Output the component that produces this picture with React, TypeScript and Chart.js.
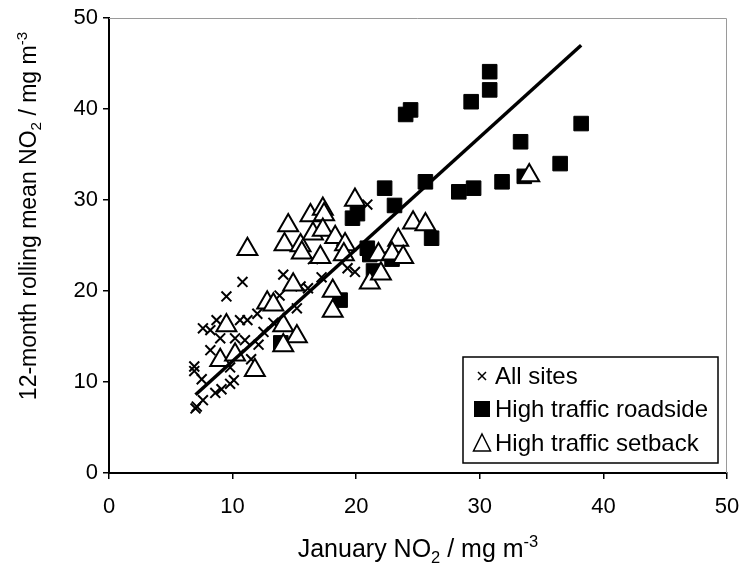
import React, { useEffect, useRef } from "react";
import { Chart, registerables } from "chart.js";

Chart.register(...registerables);

const FONT = "'Liberation Sans', Arial, Helvetica, sans-serif";

const xTickValues = [0, 10, 20, 30, 40, 50];
const yTickValues = [0, 10, 20, 30, 40, 50];

const seriesLabels = ["All sites", "High traffic roadside", "High traffic setback"];

const allSitesX = [7.0, 7.1, 7.6, 8.6, 9.1, 9.8, 10.1, 6.9, 6.9, 7.5, 9.8, 8.2, 10.2, 11.0, 12.1, 13.3, 15.2, 16.1, 7.6, 8.2, 8.7, 10.6, 11.2, 9.5, 10.8, 14.1, 17.2, 19.9, 20.9, 12.5, 16.5, 18.8, 19.3, 13.8, 11.5, 10.5, 9.0, 15.5, 12.0];
const allSitesY = [7.1, 7.3, 8.0, 8.8, 9.2, 9.8, 10.2, 11.7, 11.2, 10.3, 11.6, 13.5, 14.8, 14.6, 14.1, 16.5, 18.1, 20.3, 15.9, 15.7, 16.8, 16.8, 16.8, 19.4, 21.0, 21.8, 21.5, 22.1, 29.5, 15.5, 23.5, 25.5, 22.5, 19.5, 12.5, 13.0, 14.8, 20.5, 17.5];

const roadsideX = [30.8, 30.8, 29.3, 24.0, 24.4, 33.3, 38.2, 36.5, 31.8, 28.3, 29.5, 33.6, 25.6, 22.3, 23.1, 26.1, 19.7, 20.1, 20.9, 21.1, 21.4, 22.9, 18.7, 13.9];
const roadsideY = [44.1, 42.1, 40.8, 39.4, 39.9, 36.4, 38.4, 34.0, 32.0, 30.9, 31.3, 32.6, 32.0, 31.3, 29.4, 25.8, 28.0, 28.5, 24.7, 24.0, 22.2, 23.5, 19.0, 14.3];

const setbackX = [11.2, 14.5, 14.2, 16.3, 17.3, 17.4, 19.9, 15.5, 16.5, 17.3, 18.3, 19.1, 19.0, 15.6, 17.1, 14.9, 12.8, 13.3, 9.5, 9.0, 11.8, 10.2, 14.1, 15.2, 14.1, 18.1, 18.1, 21.1, 24.6, 25.6, 23.4, 21.8, 22.9, 23.8, 22.0, 34.0];
const setbackY = [24.6, 27.2, 25.1, 28.3, 29.0, 28.4, 30.0, 25.0, 26.3, 26.7, 25.9, 25.1, 24.0, 24.2, 23.7, 20.7, 18.7, 18.5, 16.2, 12.4, 11.3, 13.0, 16.2, 15.0, 14.0, 20.0, 17.8, 20.9, 27.5, 27.3, 25.6, 24.0, 24.1, 23.7, 21.9, 32.7];

const trendX = [7.0, 38.2];
const trendY = [8.6, 47.0];

type Run = { t: string; sub?: boolean; sup?: boolean };
const xTitleRuns: Run[] = [{ t: "January NO" }, { t: "2", sub: true }, { t: " / mg m" }, { t: "-3", sup: true }];
const yTitleRuns: Run[] = [{ t: "12-month rolling mean NO" }, { t: "2", sub: true }, { t: " / mg m" }, { t: "-3", sup: true }];

function drawRuns(ctx: CanvasRenderingContext2D, runs: Run[], size: number, cx: number, baseline: number) {
  const small = size * 0.66;
  let total = 0;
  runs.forEach((r) => {
    ctx.font = `${r.sub || r.sup ? small : size}px ${FONT}`;
    total += ctx.measureText(r.t).width;
  });
  let x = cx - total / 2;
  ctx.textAlign = "left";
  ctx.textBaseline = "alphabetic";
  runs.forEach((r) => {
    const s = r.sub || r.sup ? small : size;
    ctx.font = `${s}px ${FONT}`;
    const dy = r.sub ? size * 0.22 : r.sup ? -size * 0.4 : 0;
    ctx.fillText(r.t, x, baseline + dy);
    x += ctx.measureText(r.t).width;
  });
}

const decorPlugin = {
  id: "decor",
  beforeDatasetsDraw(chart: any) {
    const { ctx, chartArea } = chart;
    ctx.save();
    ctx.strokeStyle = "#9a9a9a";
    ctx.lineWidth = 1;
    ctx.beginPath();
    ctx.moveTo(chartArea.left, chartArea.top + 0.5);
    ctx.lineTo(chartArea.right - 0.5, chartArea.top + 0.5);
    ctx.lineTo(chartArea.right - 0.5, chartArea.bottom);
    ctx.stroke();
    ctx.restore();
  },
  afterDraw(chart: any) {
    const { ctx } = chart;
    ctx.save();
    ctx.fillStyle = "#000";
    drawRuns(ctx, xTitleRuns, 25, 418, 557);
    ctx.translate(36, 216);
    ctx.rotate(-Math.PI / 2);
    drawRuns(ctx, yTitleRuns, 23, 0, 0);
    ctx.restore();

    // legend box
    ctx.save();
    const bx = 463, by = 357, bw = 255, bh = 106;
    ctx.fillStyle = "#fff";
    ctx.fillRect(bx, by, bw, bh);
    ctx.strokeStyle = "#000";
    ctx.lineWidth = 1.5;
    ctx.strokeRect(bx, by, bw, bh);
    const rows = [376, 409, 443];
    const mx = 482;
    ctx.lineWidth = 1.5;
    ctx.beginPath();
    ctx.moveTo(mx - 4, rows[0] - 4);
    ctx.lineTo(mx + 4, rows[0] + 4);
    ctx.moveTo(mx + 4, rows[0] - 4);
    ctx.lineTo(mx - 4, rows[0] + 4);
    ctx.stroke();
    ctx.fillStyle = "#000";
    ctx.fillRect(mx - 8, rows[1] - 8, 16, 16);
    ctx.fillStyle = "#fff";
    ctx.beginPath();
    ctx.moveTo(mx, rows[2] - 9);
    ctx.lineTo(mx + 8.5, rows[2] + 8);
    ctx.lineTo(mx - 8.5, rows[2] + 8);
    ctx.closePath();
    ctx.fill();
    ctx.stroke();
    ctx.fillStyle = "#000";
    ctx.font = `24px ${FONT}`;
    ctx.textAlign = "left";
    ctx.textBaseline = "middle";
    seriesLabels.forEach((l, i) => ctx.fillText(l, 495, rows[i] + 1));
    ctx.restore();
  },
};

export default function App() {
  const ref = useRef<HTMLCanvasElement | null>(null);
  useEffect(() => {
    if (!ref.current) return;
    const toPts = (xs: number[], ys: number[]) => xs.map((x, i) => ({ x, y: ys[i] }));
    const chart = new Chart(ref.current, {
      type: "scatter",
      data: {
        datasets: [
          {
            type: "line",
            label: "trend",
            data: toPts(trendX, trendY),
            borderColor: "#000",
            borderWidth: 3.5,
            pointRadius: 0,
            showLine: true,
            fill: false,
            order: 0,
          } as any,
          {
            label: seriesLabels[2],
            data: toPts(setbackX, setbackY),
            pointStyle: "triangle",
            pointRadius: 11.5,
            pointBackgroundColor: "#fff",
            pointBorderColor: "#000",
            pointBorderWidth: 2,
            order: 1,
          },
          {
            label: seriesLabels[1],
            data: toPts(roadsideX, roadsideY),
            pointStyle: "rect",
            pointRadius: 10.3,
            pointBackgroundColor: "#000",
            pointBorderColor: "#000",
            pointBorderWidth: 1,
            order: 2,
          },
          {
            label: seriesLabels[0],
            data: toPts(allSitesX, allSitesY),
            pointStyle: "crossRot",
            pointRadius: 7,
            pointBorderColor: "#000",
            pointBorderWidth: 2,
            order: 3,
          },
        ],
      },
      options: {
        animation: false,
        responsive: false,
        maintainAspectRatio: false,
        layout: { padding: { top: 18, right: 17, left: 0, bottom: 0 } },
        plugins: { legend: { display: false }, tooltip: { enabled: false } },
        scales: {
          x: {
            type: "linear",
            min: xTickValues[0],
            max: xTickValues[xTickValues.length - 1],
            afterBuildTicks: (s: any) => {
              s.ticks = xTickValues.map((v) => ({ value: v }));
            },
            afterFit: (s: any) => {
              s.height = 98;
              s.paddingLeft = 0;
              s.paddingRight = 0;
            },
            grid: { display: true, drawOnChartArea: false, drawTicks: true, tickLength: 6, color: "#000", lineWidth: 1.5 },
            border: { display: true, color: "#000", width: 2 },
            ticks: { color: "#000", font: { family: FONT, size: 22 }, padding: 15, maxRotation: 0 },
          },
          y: {
            type: "linear",
            min: yTickValues[0],
            max: yTickValues[yTickValues.length - 1],
            afterBuildTicks: (s: any) => {
              s.ticks = yTickValues.map((v) => ({ value: v }));
            },
            afterFit: (s: any) => {
              s.width = 109;
              s.paddingTop = 0;
              s.paddingBottom = 0;
            },
            grid: { display: true, drawOnChartArea: false, drawTicks: true, tickLength: 6, color: "#000", lineWidth: 1.5 },
            border: { display: true, color: "#000", width: 2 },
            ticks: { color: "#000", font: { family: FONT, size: 22 }, padding: 5 },
          },
        },
      },
      plugins: [decorPlugin],
    });
    return () => chart.destroy();
  }, []);
  return (
    <div style={{ position: "fixed", left: 0, top: 0, width: 744, height: 571, background: "#fff" }}>
      <canvas ref={ref} width={744} height={571} style={{ width: 744, height: 571, display: "block" }} />
    </div>
  );
}
